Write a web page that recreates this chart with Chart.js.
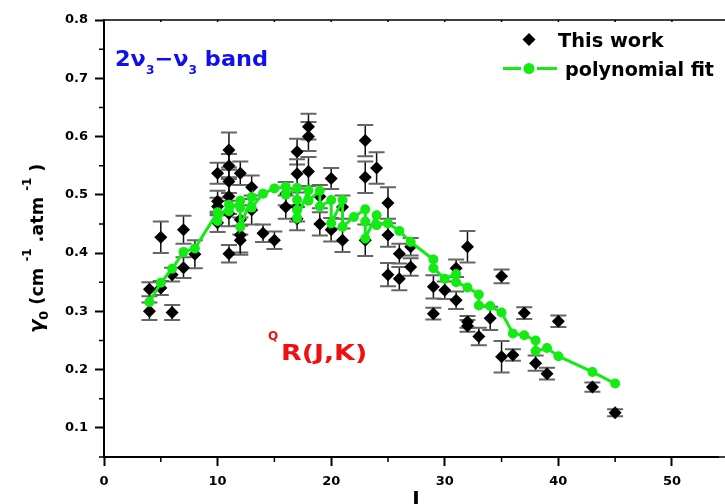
<!DOCTYPE html>
<html>
<head>
<meta charset="utf-8">
<script src="https://cdn.jsdelivr.net/npm/chart.js@4/dist/chart.umd.min.js"></script>
<style>
  html, body { margin: 0; padding: 0; background: #fff; }
  #chart { display: block; }
</style>
</head>
<body>
<canvas id="chart" width="725" height="504"></canvas>
<script>
// measured line widths gamma0 (cm-1.atm-1) vs J, with errors
const J = [4, 4, 5, 5, 6, 6, 7, 7, 8,
    10, 10, 10, 10, 11, 11, 11, 11, 11, 11, 12, 12, 12, 12, 13, 13, 14, 15, 16, 16,
    17, 17, 17, 17, 18, 18, 18, 19, 19, 20, 20, 21, 21, 23, 23, 23, 24,
    25, 25, 25, 26, 26, 27, 27, 29, 29, 30, 31, 31, 32, 32, 32, 33, 34, 35, 35,
    36, 37, 38, 39, 40, 43, 45];
const gamma = [0.338, 0.300, 0.427, 0.340, 0.363, 0.298, 0.440, 0.375, 0.398,
    0.537, 0.489, 0.480, 0.452, 0.577, 0.550, 0.523, 0.497, 0.468, 0.399, 0.537, 0.457, 0.431, 0.422, 0.513, 0.474, 0.434, 0.422, 0.502, 0.479,
    0.574, 0.536, 0.479, 0.459, 0.617, 0.600, 0.540, 0.497, 0.450, 0.528, 0.440, 0.479, 0.422, 0.593, 0.530, 0.422, 0.546,
    0.486, 0.431, 0.363, 0.399, 0.356, 0.411, 0.376, 0.342, 0.296, 0.336, 0.374, 0.319, 0.411, 0.282, 0.275, 0.257, 0.288, 0.360, 0.222,
    0.225, 0.297, 0.211, 0.193, 0.283, 0.170, 0.126];
const gammaErr = [0.012, 0.015, 0.027, 0.012, 0.012, 0.013, 0.024, 0.018, 0.024,
    0.018, 0.018, 0.015, 0.016, 0.030, 0.020, 0.020, 0.030, 0.022, 0.015, 0.020, 0.025, 0.030, 0.025, 0.020, 0.025, 0.015, 0.015, 0.020, 0.020,
    0.022, 0.025, 0.025, 0.020, 0.022, 0.025, 0.025, 0.020, 0.020, 0.018, 0.020, 0.020, 0.020, 0.027, 0.027, 0.027, 0.027,
    0.027, 0.020, 0.020, 0.017, 0.020, 0.015, 0.015, 0.020, 0.010, 0.015, 0.015, 0.015, 0.027, 0.010, 0.010, 0.015, 0.020, 0.012, 0.027,
    0.010, 0.010, 0.013, 0.010, 0.010, 0.008, 0.006];

// polynomial fit
const fitJ = [4, 5, 6, 7, 8, 10, 10, 11, 11, 12, 12, 12, 13, 13, 14, 15, 16, 16,
    17, 17, 17, 17, 18, 18, 19, 19, 20, 20, 21, 21, 22, 23, 23, 23, 24, 24,
    25, 26, 27, 29, 29, 30, 31, 31, 32, 33, 33, 34, 35, 36, 37, 38, 38, 39, 40, 43, 45];
const fitGamma = [0.316, 0.349, 0.373, 0.402, 0.408, 0.470, 0.455, 0.483, 0.472, 0.490, 0.478, 0.445, 0.496, 0.478, 0.502, 0.511, 0.514, 0.500,
    0.512, 0.491, 0.474, 0.460, 0.508, 0.490, 0.507, 0.480, 0.491, 0.451, 0.491, 0.445, 0.462, 0.475, 0.454, 0.425, 0.465, 0.448,
    0.451, 0.438, 0.419, 0.389, 0.374, 0.356, 0.364, 0.350, 0.341, 0.329, 0.310, 0.309, 0.298, 0.262, 0.259, 0.250, 0.232, 0.237, 0.223, 0.196, 0.176];

const xTicks = [0, 5, 10, 15, 20, 25, 30, 35, 40, 45, 50];
const yTicks = [0.05, 0.1, 0.15, 0.2, 0.25, 0.3, 0.35, 0.4, 0.45, 0.5, 0.55, 0.6, 0.65, 0.7, 0.75, 0.8];

const FONT = 'DejaVu Sans';
const GREEN = 'rgb(20,235,20)';
const isMajorX = v => v % 10 === 0;
const isMajorY = v => Math.abs(v * 10 - Math.round(v * 10)) < 1e-6;

// draw text pieces one after another, some raised or lowered
function drawPieces(ctx, x, y, pieces, color, sx) {
    ctx.save();
    ctx.translate(x, y);
    ctx.scale(sx || 1, 1);
    ctx.fillStyle = color;
    ctx.textBaseline = 'alphabetic';
    ctx.textAlign = 'left';
    let cx = 0;
    for (const p of pieces) {
        ctx.font = p.font;
        ctx.fillText(p.t, cx, p.dy || 0);
        cx += ctx.measureText(p.t).width;
    }
    ctx.restore();
}

const errorBars = {
    id: 'errorBars',
    beforeDatasetsDraw(chart) {
        const ctx = chart.ctx, xs = chart.scales.x, ys = chart.scales.y;
        ctx.save();
        for (let i = 0; i < J.length; i++) {
            const px = xs.getPixelForValue(J[i]);
            const top = ys.getPixelForValue(gamma[i] + gammaErr[i]);
            const bot = ys.getPixelForValue(gamma[i] - gammaErr[i]);
            ctx.strokeStyle = '#111';
            ctx.lineWidth = 1.5;
            ctx.beginPath();
            ctx.moveTo(px, top); ctx.lineTo(px, bot);
            ctx.stroke();
            ctx.strokeStyle = '#666';
            ctx.lineWidth = 2;
            ctx.beginPath();
            ctx.moveTo(px - 8, top); ctx.lineTo(px + 8, top);
            ctx.moveTo(px - 8, bot); ctx.lineTo(px + 8, bot);
            ctx.stroke();
        }
        ctx.restore();
    }
};

const decorations = {
    id: 'decorations',
    afterDraw(chart) {
        const ctx = chart.ctx, a = chart.chartArea, xs = chart.scales.x, ys = chart.scales.y;
        ctx.save();
        // minor ticks + top frame
        ctx.strokeStyle = '#000';
        ctx.lineWidth = 1.5;
        ctx.beginPath();
        xTicks.filter(v => !isMajorX(v)).forEach(v => {
            const px = xs.getPixelForValue(v);
            ctx.moveTo(px, a.bottom); ctx.lineTo(px, a.bottom + 5);
        });
        yTicks.filter(v => !isMajorY(v)).forEach(v => {
            const py = ys.getPixelForValue(v);
            ctx.moveTo(a.left, py); ctx.lineTo(a.left - 5, py);
        });
        ctx.moveTo(a.left, a.top); ctx.lineTo(725, a.top);
        xTicks.slice(1).forEach(v => {
            const px = xs.getPixelForValue(v);
            ctx.moveTo(px, a.top); ctx.lineTo(px, a.top + 2);
        });
        ctx.moveTo(a.right, a.bottom); ctx.lineTo(725, a.bottom);
        ctx.stroke();

        // y title (rotated)
        ctx.save();
        ctx.translate(43, 333);
        ctx.rotate(-Math.PI / 2);
        drawPieces(ctx, 0, 0, [
            { t: 'γ', font: 'italic bold 20px ' + FONT },
            { t: '0', font: 'bold 13px ' + FONT, dy: 5 },
            { t: ' (cm ', font: 'bold 18px ' + FONT },
            { t: '-1', font: 'bold 12px ' + FONT, dy: -12 },
            { t: ' .atm ', font: 'bold 18px ' + FONT },
            { t: '-1', font: 'bold 12px ' + FONT, dy: -12 },
            { t: ' )', font: 'bold 18px ' + FONT }
        ], '#000', 0.98);
        ctx.restore();

        // x title
        ctx.fillStyle = '#000';
        ctx.font = 'bold 20px ' + FONT;
        ctx.textAlign = 'center';
        ctx.fillText('J', 416, 505);

        // band label
        drawPieces(ctx, 115, 66, [
            { t: '2ν', font: 'bold 22px ' + FONT },
            { t: '3', font: 'bold 12px ' + FONT, dy: 8 },
            { t: '−', font: 'bold 22px ' + FONT },
            { t: 'ν', font: 'bold 22px ' + FONT },
            { t: '3', font: 'bold 12px ' + FONT, dy: 8 },
            { t: ' band', font: 'bold 22px ' + FONT }
        ], '#1010ee', 1.02);

        // branch label
        drawPieces(ctx, 268, 340, [{ t: 'Q', font: 'bold 12px ' + FONT }], '#f01010', 1);
        drawPieces(ctx, 281, 360, [{ t: 'R(J,K)', font: 'bold 22px ' + FONT }], '#f01010', 1.22);

        // legend
        ctx.fillStyle = '#000';
        ctx.beginPath();
        ctx.moveTo(529, 33); ctx.lineTo(535.5, 39.5); ctx.lineTo(529, 46); ctx.lineTo(522.5, 39.5);
        ctx.closePath();
        ctx.fill();
        ctx.strokeStyle = GREEN;
        ctx.lineWidth = 3;
        ctx.beginPath();
        ctx.moveTo(503, 68.5); ctx.lineTo(521, 68.5);
        ctx.moveTo(537, 68.5); ctx.lineTo(557, 68.5);
        ctx.stroke();
        ctx.fillStyle = GREEN;
        ctx.beginPath();
        ctx.arc(529, 68.5, 5.5, 0, Math.PI * 2);
        ctx.fill();
        drawPieces(ctx, 558, 47, [{ t: 'This work', font: 'bold 19px ' + FONT }], '#000', 1.02);
        drawPieces(ctx, 565, 76, [{ t: 'polynomial fit', font: 'bold 19px ' + FONT }], '#000', 1.01);
        ctx.restore();
    }
};

new Chart(document.getElementById('chart'), {
    type: 'scatter',
    data: {
        datasets: [
            {
                label: 'polynomial fit',
                data: fitJ.map((j, i) => ({ x: j, y: fitGamma[i] })),
                showLine: true,
                borderColor: GREEN,
                borderWidth: 3,
                backgroundColor: GREEN,
                pointRadius: 5,
                pointBorderWidth: 0,
                pointBackgroundColor: GREEN
            },
            {
                label: 'This work',
                data: J.map((j, i) => ({ x: j, y: gamma[i] })),
                pointStyle: 'rectRot',
                pointRadius: 6.5,
                pointBorderWidth: 0,
                backgroundColor: '#000',
                borderColor: '#000'
            }
        ]
    },
    options: {
        responsive: false,
        animation: false,
        layout: { padding: { top: 20, right: 0, left: 0, bottom: 0 } },
        plugins: {
            legend: { display: false },
            tooltip: { enabled: false }
        },
        scales: {
            x: {
                type: 'linear',
                min: 0,
                max: 54.1,
                afterBuildTicks: s => { s.ticks = xTicks.map(v => ({ value: v })); },
                afterFit: s => { s.height = 47; },
                border: { color: '#000', width: 2 },
                grid: {
                    drawOnChartArea: false,
                    tickLength: 9,
                    tickWidth: 2,
                    tickColor: c => (c.tick && isMajorX(c.tick.value)) ? '#000' : 'rgba(0,0,0,0)'
                },
                ticks: {
                    autoSkip: false,
                    maxRotation: 0,
                    padding: 8,
                    color: '#000',
                    font: { family: FONT, weight: 'bold', size: 13 },
                    callback: v => isMajorX(v) ? String(v) : ''
                }
            },
            y: {
                type: 'linear',
                min: 0.05,
                max: 0.8,
                afterBuildTicks: s => { s.ticks = yTicks.map(v => ({ value: v })); },
                afterFit: s => { s.width = 104; },
                border: { color: '#000', width: 2 },
                grid: {
                    drawOnChartArea: false,
                    tickLength: 9,
                    tickWidth: 2,
                    tickColor: c => (c.tick && isMajorY(c.tick.value)) ? '#000' : 'rgba(0,0,0,0)'
                },
                ticks: {
                    autoSkip: false,
                    padding: 7,
                    color: '#000',
                    font: { family: FONT, weight: 'bold', size: 13 },
                    callback: v => isMajorY(v) ? v.toFixed(1) : ''
                }
            }
        }
    },
    plugins: [errorBars, decorations]
});
</script>
</body>
</html>
